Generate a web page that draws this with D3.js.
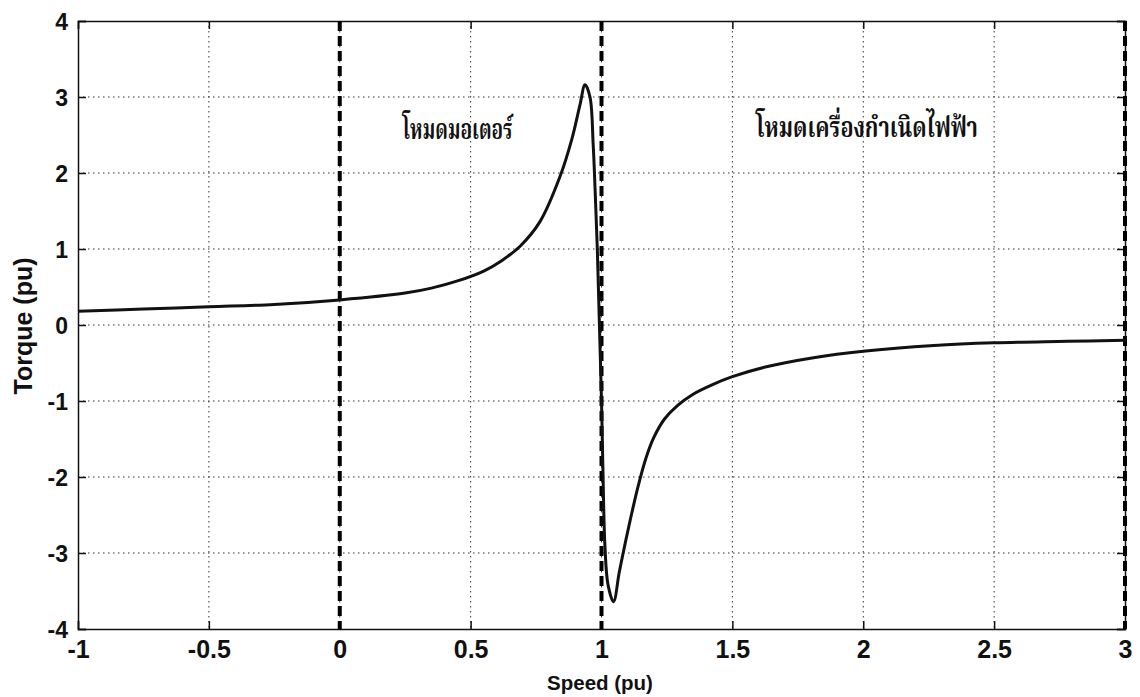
<!DOCTYPE html>
<html>
<head>
<meta charset="utf-8">
<script src="https://cdn.jsdelivr.net/npm/d3@7"></script>
<style>
  html, body { margin: 0; padding: 0; background: #fff; }
  svg { display: block; }
  text { font-family: Arial, "Liberation Sans", Helvetica, sans-serif; font-weight: bold; fill: #111; }
  .thai { font-family: "Angsana New", "TH Sarabun New", "Noto Serif Thai", "Noto Sans Thai", "Loma", "Garuda", "Norasi", "DejaVu Sans", serif; font-weight: bold; }
</style>
</head>
<body>
<svg id="chart" width="1140" height="697"></svg>
<script>
// ---- data ----
const speed = [-1, -0.75, -0.5, -0.25, 0, 0.25, 0.35, 0.45, 0.55, 0.62, 0.69, 0.765, 0.84, 0.887, 0.918, 0.937, 0.956, 0.968, 0.976, 0.984, 0.992, 1.0, 1.006, 1.013, 1.025, 1.046, 1.068, 1.093, 1.116, 1.14, 1.17, 1.2, 1.24, 1.29, 1.35, 1.42, 1.5, 1.63, 1.81, 2.0, 2.27, 2.5, 2.78, 3.0];
const torque = [0.18, 0.21, 0.24, 0.27, 0.33, 0.42, 0.485, 0.58, 0.71, 0.85, 1.04, 1.36, 1.94, 2.45, 2.9, 3.16, 3.0, 2.39, 1.74, 1.0, 0.0, -1.0, -2.0, -2.9, -3.42, -3.64, -3.25, -2.83, -2.47, -2.12, -1.75, -1.48, -1.24, -1.06, -0.91, -0.79, -0.68, -0.55, -0.43, -0.345, -0.27, -0.235, -0.215, -0.2];
const xTicks = [-1, -0.5, 0, 0.5, 1, 1.5, 2, 2.5, 3];
const yTicks = [-4, -3, -2, -1, 0, 1, 2, 3, 4];
const modeLines = [0, 1, 3];
const modeLabels = ["โหมดมอเตอร์", "โหมดเครื่องกำเนิดไฟฟ้า"];
const modeLabelX = [0.24, 1.59];
const modeLabelY = [2.45, 2.47];
const modeLabelWidth = [110, 222];
const xTitle = "Speed (pu)";
const yTitle = "Torque (pu)";

// ---- layout ----
const svg = d3.select("#chart");
const L = 78, R = 1125, T = 21, B = 629;
const x = d3.scaleLinear().domain([-1, 3]).range([L, R]);
const y = d3.scaleLinear().domain([-4, 4]).range([B, T]);

// grid
const grid = svg.append("g");
grid.selectAll("line.gx").data(xTicks.filter(d => d > -1 && d < 3)).join("line")
  .attr("x1", d => x(d)).attr("x2", d => x(d)).attr("y1", T).attr("y2", B)
  .attr("stroke", "#333").attr("stroke-width", 1).attr("stroke-dasharray", "1.5,3.5");
grid.selectAll("line.gy").data(yTicks.filter(d => d > -4 && d < 4)).join("line")
  .attr("x1", L).attr("x2", R).attr("y1", d => y(d)).attr("y2", d => y(d))
  .attr("stroke", "#333").attr("stroke-width", 1).attr("stroke-dasharray", "1.5,3.5");

// axes (inward ticks, box)
const fmt = d => d3.format("")(d).replace("−", "-");
const ax = svg.append("g").attr("transform", `translate(0,${B})`)
  .call(d3.axisBottom(x).tickValues(xTicks).tickSize(-8).tickPadding(6).tickFormat(fmt));
const axTop = svg.append("g").attr("transform", `translate(0,${T})`)
  .call(d3.axisTop(x).tickValues(xTicks).tickSize(-8).tickFormat(""));
const ay = svg.append("g").attr("transform", `translate(${L},0)`)
  .call(d3.axisLeft(y).tickValues(yTicks).tickSize(-8).tickPadding(10).tickFormat(fmt));
const ayR = svg.append("g").attr("transform", `translate(${R},0)`)
  .call(d3.axisRight(y).tickValues(yTicks).tickSize(-8).tickFormat(""));
[ax, axTop, ay, ayR].forEach(g => {
  g.selectAll("path.domain").attr("stroke", "#111").attr("stroke-width", 1.5);
  g.selectAll(".tick line").attr("stroke", "#111").attr("stroke-width", 1.5);
});
ax.selectAll(".tick text").attr("font-size", 25).attr("font-weight", "bold")
  .attr("font-family", "Arial, 'Liberation Sans', sans-serif").attr("fill", "#111").attr("dy", "0.9em");
ay.selectAll(".tick text").attr("font-size", 23).attr("font-weight", "bold")
  .attr("font-family", "Arial, 'Liberation Sans', sans-serif").attr("fill", "#111").attr("dy", "0.36em");

// dashed mode lines
svg.append("g").selectAll("line").data(modeLines).join("line")
  .attr("x1", d => x(d)).attr("x2", d => x(d)).attr("y1", T).attr("y2", B)
  .attr("stroke", "#000").attr("stroke-width", 4).attr("stroke-dasharray", "10,5");

// curve
const pts = speed.map((s, i) => [s, torque[i]]);
svg.append("path").datum(pts)
  .attr("fill", "none").attr("stroke", "#111").attr("stroke-width", 3).attr("stroke-linejoin", "round")
  .attr("d", d3.line().x(d => x(d[0])).y(d => y(d[1])).curve(d3.curveCatmullRom.alpha(0.5)));

// mode labels
svg.append("g").selectAll("text").data(modeLabels).join("text")
  .attr("class", "thai")
  .attr("x", (d, i) => x(modeLabelX[i])).attr("y", (d, i) => y(modeLabelY[i]))
  .attr("font-size", 28)
  .attr("textLength", (d, i) => modeLabelWidth[i])
  .attr("lengthAdjust", "spacingAndGlyphs")
  .text(d => d);

// axis titles
svg.append("text").attr("x", 600).attr("y", 690).attr("text-anchor", "middle")
  .attr("font-size", 20.5).text(xTitle);
svg.append("text").attr("transform", `translate(32,${326}) rotate(-90)`).attr("text-anchor", "middle")
  .attr("font-size", 25).text(yTitle);
</script>
</body>
</html>
